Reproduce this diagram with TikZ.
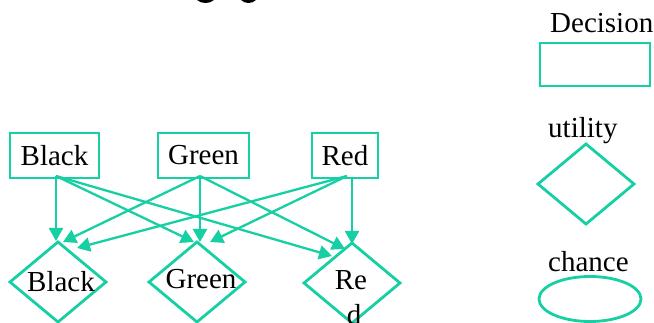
\documentclass[tikz,border=0pt]{standalone}
\usepackage{fontspec}
\setmainfont{Liberation Serif}
\usetikzlibrary{arrows.meta,shapes.geometric,calc}
\definecolor{mint}{RGB}{22,208,164}
\tikzset{
  decbox/.style={draw=mint,line width=2.8pt,minimum height=45pt,inner sep=2pt,outer sep=0pt},
  utilbox/.style={draw=mint,line width=2.8pt,diamond,minimum width=96pt,minimum height=80pt,inner sep=0pt,outer sep=0pt},
  chancebox/.style={draw=mint,line width=2.8pt,ellipse,minimum width=102pt,minimum height=45pt,inner sep=0pt,outer sep=0pt},
  caption/.style={inner sep=0pt,anchor=base west},
  link/.style={draw=mint,line width=2.3pt,-{Triangle[length=13pt,width=14pt]}},
}
\begin{document}
\begin{tikzpicture}[x=1pt,y=-1pt,font=\fontsize{29}{35}\selectfont]
\useasboundingbox (0,0) rectangle (654,323);
% bits of the cut-off title
\fill (197,0) .. controls (201,4) and (210,4) .. (214,0) -- cycle;
\fill (241,0) .. controls (245,4) and (252,4) .. (256,0) -- cycle;
% decisions
\node[decbox,minimum width=89pt] (dBlack) at (54.5,155.5) {Black};
\node[decbox,minimum width=91pt] (dGreen) at (203.5,155.5) {Green};
\node[decbox,minimum width=66pt] (dRed) at (345,155.5) {Red};
% utilities
\node[utilbox] (uBlack) at (58,282) {};
\node[utilbox] (uGreen) at (197,282) {};
\node[utilbox] (uRed) at (352,283) {};
\node[anchor=base] (tBlack) at (61,292) {Black};
\node[anchor=base] (tGreen) at (201,289) {Green};
\node[anchor=base] (tRe) at (351,290) {Re};
\node[anchor=base] (tRed) at (354,325) {d};
% links
\draw[link] ($(dBlack.south)+(1.5,-2)$) -- ($(uBlack.north)+(-2,-1)$);
\draw[link] ($(dBlack.south)+(1.5,-2)$) -- ($(uGreen.north)+(-3,0)$);
\draw[link] ($(dBlack.south)+(1.5,-2)$) -- ($(uRed.north)+(-20,13)$);
\draw[link] ($(dGreen.south)+(-3.5,-2)$) -- ($(uBlack.north)+(5,0)$);
\draw[link] ($(dGreen.south)+(-3.5,-2)$) -- ($(uGreen.north)+(3,0)$);
\draw[link] ($(dGreen.south)+(-3.5,-2)$) -- ($(uRed.north)+(-7,6)$);
\draw[link] ($(dRed.south)+(2,-2)$) -- ($(uBlack.north)+(19,6)$);
\draw[link] ($(dRed.south)+(2,-2)$) -- ($(uGreen.north)+(13,0)$);
\draw[link] ($(dRed.south)+(7,0)$) -- ($(uRed.north)+(0,1)$);
% key
\node[caption] (lDecision) at (550,33) {Decision};
\node[decbox,minimum width=110pt,minimum height=43pt] (kDecision) at (595,64.5) {};
\node[caption] (lUtility) at (548,138) {utility};
\node[utilbox,minimum height=80pt] (kUtility) at (586,184) {};
\node[caption] (lChance) at (548,272) {chance};
\node[chancebox] (kChance) at (590,299) {};
\end{tikzpicture}
\end{document}
